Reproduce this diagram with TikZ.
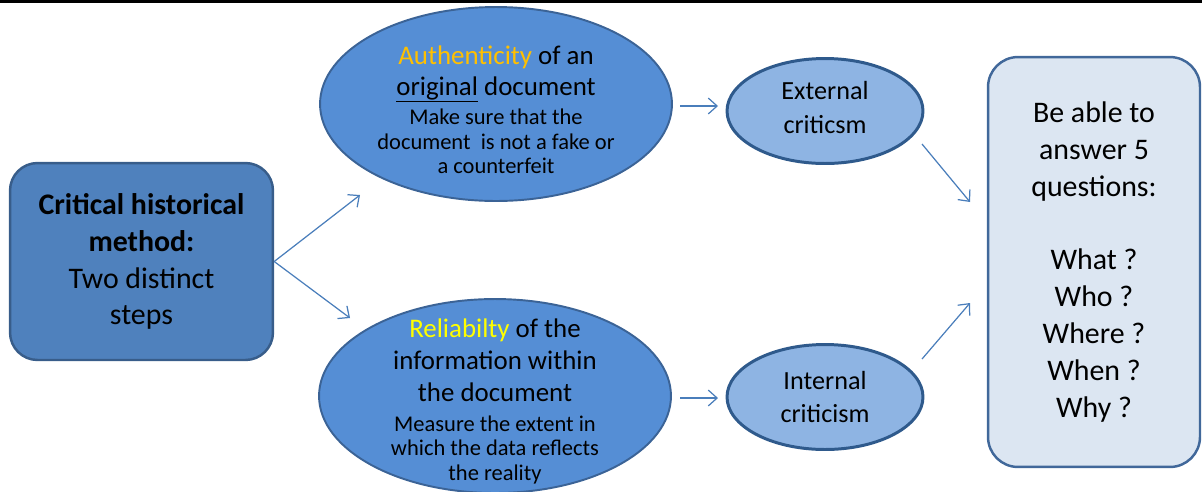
\documentclass[tikz,border=0pt]{standalone}
\usepackage{fontspec}
\setmainfont{Carlito}
\usetikzlibrary{arrows.meta}
\usetikzlibrary{positioning}
\usetikzlibrary{shapes.geometric}

\definecolor{methodfill}{HTML}{4F81BD}
\definecolor{methodedge}{HTML}{385D8A}
\definecolor{stagefill}{HTML}{558ED5}
\definecolor{stageedge}{HTML}{3B6396}
\definecolor{criticfill}{HTML}{8EB4E3}
\definecolor{criticedge}{HTML}{2F5A8C}
\definecolor{answerfill}{HTML}{DCE6F2}
\definecolor{answeredge}{HTML}{41689A}
\definecolor{linkblue}{HTML}{4A7EBB}
\definecolor{authgold}{HTML}{FFC000}
\definecolor{reliayellow}{HTML}{FFFF00}

\newcommand{\bigline}{\fontsize{15.3}{18}\selectfont}
\newcommand{\smallline}{\fontsize{12.8}{14}\selectfont}

\begin{document}
\begin{tikzpicture}[x=0.02cm, y=-0.02cm,
    method/.style={rectangle, rounded corners=0.55cm, draw=methodedge, line width=1.4pt,
      fill=methodfill, minimum width=5.26cm, minimum height=3.94cm, inner sep=0pt,
      align=center, font=\fontsize{17}{21}\selectfont},
    stage/.style={ellipse, draw=stageedge, line width=1.1pt, fill=stagefill,
      minimum width=7.04cm, minimum height=3.88cm, inner sep=-0.6cm, align=center,
      font=\bigline},
    critic/.style={ellipse, draw=criticedge, line width=1.7pt, fill=criticfill,
      minimum width=3.92cm, minimum height=2.1cm, inner sep=-0.2cm, align=center,
      font=\fontsize{14.9}{19}\selectfont},
    answers/.style={rectangle, rounded corners=0.6cm, draw=answeredge, line width=1.4pt,
      fill=answerfill, minimum width=4.24cm, minimum height=8.2cm, inner sep=0pt,
      align=center, font=\fontsize{17}{21}\selectfont},
    link/.style={-{Straight Barb[length=5pt,width=9pt]}, draw=linkblue, line width=0.7pt}
  ]
  \useasboundingbox (0,0) rectangle (1202,491);
  \fill[black] (0,0) rectangle (1202,3);

  \node[method] (method) at (141.5,261.5)
    {\textbf{Critical historical}\\ \textbf{method:}\\ Two distinct\\ steps};

  \node[stage] (auth) at (496,104)
    {\rule{0pt}{17pt}\textcolor{authgold}{Authenticity} of an\\
     \underline{\raisebox{0pt}[\height][2pt]{original}} document\\[-1.6pt]
     {\smallline Make sure that the}\\[-4pt]
     {\smallline document\ \ is not a fake or}\\[-4pt]
     {\smallline a counterfeit}};
  \node[stage] (relia) at (495,396)
    {\rule{0pt}{17pt}\textcolor{reliayellow}{Reliabilty} of the\\
     information within\\
     the document\\[-1pt]
     {\smallline Measure the extent in}\\[-4pt]
     {\smallline which the\ data reflects}\\[-4pt]
     {\smallline the reality}};

  \node[critic] (external) at (825,111) {External\\ criticsm\rule[-4pt]{0pt}{0pt}};
  \node[critic] (internal) at (825,397) {Internal\\ criticism};

  \node[answers] (questions) at (1094,262)
    {Be able to\\ answer 5\\ questions:\\[21pt]
     What ?\\ Who ?\\ Where ?\\ When ?\\ Why ?};

  % free arrow ends
  \coordinate (auth in) at (360,195);
  \coordinate (relia in) at (350,318);
  \coordinate (auth out) at (680,106);
  \coordinate (external in) at (718,106);
  \coordinate (relia out) at (680,398);
  \coordinate (internal in) at (718,398);
  \coordinate (external out) at (922,144);
  \coordinate (questions in top) at (970,202);
  \coordinate (internal out) at (922,359);
  \coordinate (questions in bottom) at (970,303);

  \draw[link] (method.east) -- (auth in);
  \draw[link] (method.east) -- (relia in);
  \draw[link] (auth out) -- (external in);
  \draw[link] (relia out) -- (internal in);
  \draw[link] (external out) -- (questions in top);
  \draw[link] (internal out) -- (questions in bottom);
\end{tikzpicture}
\end{document}
